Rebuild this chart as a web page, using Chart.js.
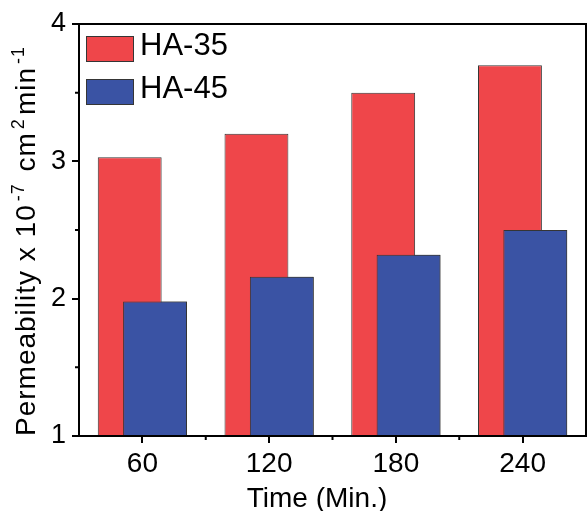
<!DOCTYPE html>
<html>
<head>
  <meta charset="UTF-8" />
  <title>Permeability vs Time</title>
  <script src="https://cdn.jsdelivr.net/npm/chart.js"></script>
  <style>
    html, body { margin: 0; padding: 0; background: #fff; }
  </style>
</head>
<body>
  <canvas id="chart" width="587" height="511"></canvas>

  <script>
    // --- Data ---
    const categories = ['60', '120', '180', '240'];
    const ha35 = [3.03, 3.20, 3.50, 3.70];
    const ha45 = [1.98, 2.16, 2.32, 2.50];
    const yTicks = [1, 2, 3, 4];
    const yMinorTicks = [1.5, 2.5, 3.5];
    const xMinorTicks = [0.5, 1.5, 2.5];

    const RED = '#EF464A';
    const BLUE = '#3A53A4';
    const EDGE = '#353535';
    const FONT = '"Liberation Sans", Arial, sans-serif';

    // frame, minor ticks, legend and axis titles
    const decorations = {
      id: 'decorations',
      afterDatasetsDraw(chart) {
        const { ctx, chartArea: a, scales: { x, y } } = chart;

        // HA-45 sits in front of HA-35 (clipped like the normal pass)
        ctx.save();
        ctx.beginPath();
        ctx.rect(a.left, a.top, a.right - a.left, a.bottom - a.top);
        ctx.clip();
        chart.getDatasetMeta(1).controller.draw();
        ctx.restore();

        ctx.save();
        ctx.strokeStyle = '#000';
        ctx.lineWidth = 2;
        ctx.strokeRect(a.left, a.top, a.right - a.left, a.bottom - a.top);

        ctx.beginPath();
        yMinorTicks.forEach(v => {
          const py = y.getPixelForValue(v);
          ctx.moveTo(a.left - 4, py);
          ctx.lineTo(a.left, py);
        });
        xMinorTicks.forEach(v => {
          const px = x.getPixelForValue(v);
          ctx.moveTo(px, a.bottom);
          ctx.lineTo(px, a.bottom + 4);
        });
        ctx.stroke();
        ctx.restore();
      },
      afterDraw(chart) {
        const { ctx, chartArea: a } = chart;
        ctx.save();

        // legend inside the plot, top-left
        chart.data.datasets.forEach((ds, i) => {
          const bx = a.left + 7, by = a.top + 12 + i * 43;
          ctx.fillStyle = ds.backgroundColor;
          ctx.fillRect(bx, by, 48, 26);
          ctx.strokeStyle = EDGE;
          ctx.lineWidth = 1;
          ctx.strokeRect(bx + 0.5, by + 0.5, 47, 25);
          ctx.fillStyle = '#000';
          ctx.font = '31px ' + FONT;
          ctx.textBaseline = 'alphabetic';
          ctx.textAlign = 'left';
          ctx.fillText(ds.label, bx + 54, by + 19);
        });

        // x title
        ctx.font = '28px ' + FONT;
        ctx.textAlign = 'center';
        ctx.fillText('Time (Min.)', 317, 507);

        // y title with superscripts
        ctx.translate(35, 436);
        ctx.rotate(-Math.PI / 2);
        ctx.textAlign = 'left';
        ctx.letterSpacing = '1px';
        const parts = [
          ['Permeability x 10', false],
          ['-7', true],
          [' cm', false],
          ['2', true],
          ['min', false],
          ['-1', true]
        ];
        let cx = 0;
        parts.forEach(([txt, sup]) => {
          ctx.font = (sup ? '18px ' : '28px ') + FONT;
          ctx.fillText(txt, cx + (sup ? 3 : 0), sup ? -11 : 0);
          cx += ctx.measureText(txt).width + (sup ? 6 : 0);
        });
        ctx.restore();
      }
    };

    new Chart(document.getElementById('chart'), {
      type: 'bar',
      data: {
        labels: categories,
        datasets: [
          {
            label: 'HA-35',
            data: ha35,
            backgroundColor: RED,
            borderColor: EDGE,
            borderWidth: 1,
            categoryPercentage: 0.4,
            barPercentage: 2.52
          },
          {
            label: 'HA-45',
            data: ha45,
            backgroundColor: BLUE,
            borderColor: EDGE,
            borderWidth: 1,
            categoryPercentage: 0.4,
            barPercentage: 2.52
          }
        ]
      },
      options: {
        responsive: false,
        animation: false,
        layout: { padding: { top: 24, right: 1, left: 0, bottom: 0 } },
        plugins: { legend: { display: false }, tooltip: { enabled: false } },
        scales: {
          x: {
            offset: true,
            grid: { offset: false, drawOnChartArea: false, tickLength: 7, lineWidth: 2, color: '#000' },
            border: { display: false },
            ticks: { color: '#000', padding: 4, font: { family: FONT, size: 28 } },
            afterFit: s => { s.height = 75; }
          },
          y: {
            min: 1,
            max: 4,
            afterBuildTicks: s => { s.ticks = yTicks.map(v => ({ value: v })); },
            grid: { drawOnChartArea: false, tickLength: 7, lineWidth: 2, color: '#000' },
            border: { display: false },
            ticks: { color: '#000', padding: 6, font: { family: FONT, size: 27 } },
            afterFit: s => { s.width = 79; }
          }
        }
      },
      plugins: [decorations]
    });
  </script>
</body>
</html>
